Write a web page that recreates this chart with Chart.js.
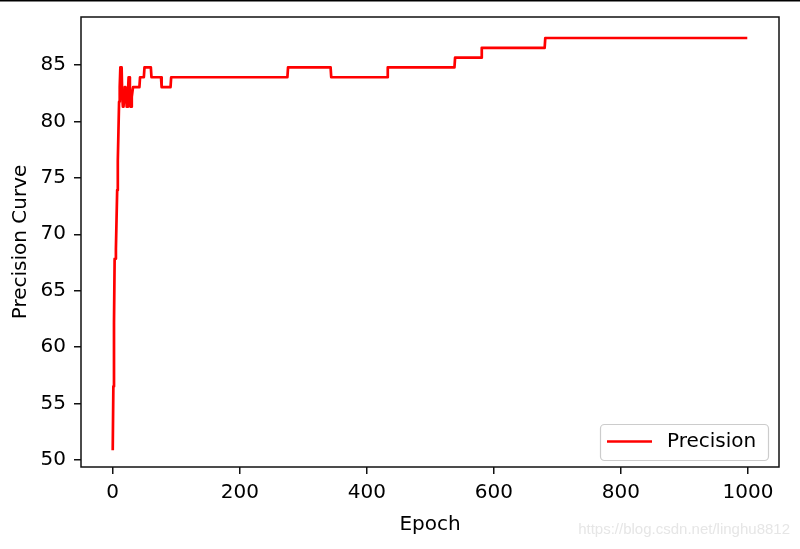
<!DOCTYPE html>
<html>
<head>
<meta charset="utf-8">
<script src="https://cdn.jsdelivr.net/npm/chart.js@4"></script>
<style>
  html, body { margin: 0; padding: 0; background: #fff; }
  #wrap { position: relative; width: 800px; height: 549px; }
  canvas { display: block; }
</style>
</head>
<body>
<div id="wrap"><canvas id="c" width="800" height="549"></canvas></div>
<script>
// ---- data ----
const epochs = [0, 1, 2, 3, 4, 5, 6, 7, 8, 9, 10, 11, 12,
  14, 15, 16, 17, 18, 19, 20, 21, 22, 23, 24, 25, 26, 27, 28, 29, 30, 31, 32,
  42, 43, 49, 50, 60, 61, 76, 77, 91, 92,
  275, 276, 343, 344, 432, 433, 538, 539, 580, 581, 680, 681, 999];
const precision = [50.87, 56.52, 62.17, 67.83, 67.83, 68.70, 71.30, 73.91, 76.52, 79.13, 81.74, 83.04, 84.78,
  84.78, 82.17, 81.30, 81.30, 82.17, 83.04, 83.04, 82.17, 81.30, 81.30, 82.61, 83.91, 83.91, 83.04, 81.30, 81.30, 82.17, 82.61, 83.04,
  83.04, 83.91, 83.91, 84.78, 84.78, 83.91, 83.91, 83.04, 83.04, 83.91,
  83.91, 84.78, 84.78, 83.91, 83.91, 84.78, 84.78, 85.65, 85.65, 86.52, 86.52, 87.39, 87.39];
const xTicks = [0, 200, 400, 600, 800, 1000];
const yTicks = [50, 55, 60, 65, 70, 75, 80, 85];
const seriesLabel = 'Precision';
const xTitle = 'Epoch';
const yTitle = 'Precision Curve';
const watermark = 'https://blog.csdn.net/linghu8812';

const FONT = 'DejaVu Sans';
const FS = 20;

const decor = {
  id: 'decor',
  beforeDraw(chart) {
    const ctx = chart.ctx;
    ctx.save();
    ctx.fillStyle = '#fff';
    ctx.fillRect(0, 0, chart.width, chart.height);
    ctx.fillStyle = '#000';
    ctx.fillRect(0, 0, chart.width, 1.5);
    ctx.restore();
  },
  afterDraw(chart) {
    const ctx = chart.ctx;
    const a = chart.chartArea;
    ctx.save();
    // frame (all four spines)
    ctx.strokeStyle = '#111';
    ctx.lineWidth = 1.5;
    ctx.strokeRect(a.left, a.top, a.right - a.left, a.bottom - a.top);
    // legend box (lower right)
    const ds = chart.data.datasets[0];
    const bx = 600.5, by = 424.5, bw = 168, bh = 36, r = 4;
    ctx.beginPath();
    ctx.moveTo(bx + r, by);
    ctx.arcTo(bx + bw, by, bx + bw, by + bh, r);
    ctx.arcTo(bx + bw, by + bh, bx, by + bh, r);
    ctx.arcTo(bx, by + bh, bx, by, r);
    ctx.arcTo(bx, by, bx + bw, by, r);
    ctx.closePath();
    ctx.fillStyle = 'rgba(255,255,255,0.8)';
    ctx.fill();
    ctx.strokeStyle = '#cccccc';
    ctx.lineWidth = 1.2;
    ctx.stroke();
    ctx.beginPath();
    ctx.moveTo(607, 441.5);
    ctx.lineTo(652, 441.5);
    ctx.strokeStyle = ds.borderColor;
    ctx.lineWidth = ds.borderWidth;
    ctx.stroke();
    ctx.fillStyle = '#000';
    ctx.font = FS + 'px "' + FONT + '"';
    ctx.textBaseline = 'middle';
    ctx.textAlign = 'left';
    ctx.fillText(ds.label, 667, 442);
    // watermark
    ctx.fillStyle = '#e6e6e6';
    ctx.font = '15px "Liberation Sans"';
    ctx.textAlign = 'right';
    ctx.fillText(watermark, 790, 530);
    ctx.restore();
  }
};

new Chart(document.getElementById('c'), {
  type: 'line',
  data: {
    datasets: [{
      label: seriesLabel,
      data: epochs.map((e, i) => ({ x: e, y: precision[i] })),
      borderColor: '#ff0000',
      borderWidth: 2.7,
      pointRadius: 0,
      tension: 0,
      fill: false,
      borderJoinStyle: 'round',
      borderCapStyle: 'butt'
    }]
  },
  options: {
    responsive: false,
    devicePixelRatio: 1,
    animation: false,
    layout: { padding: { top: 17, right: 21, left: 0, bottom: 0 } },
    plugins: { legend: { display: false }, tooltip: { enabled: false } },
    scales: {
      x: {
        type: 'linear',
        min: -49.95,
        max: 1048.95,
        afterBuildTicks: s => { s.ticks = xTicks.map(v => ({ value: v })); },
        afterFit: s => { s.height = 82; s.paddingLeft = 0; s.paddingRight = 0; s.paddingTop = 0; s.paddingBottom = 0; },
        grid: { drawOnChartArea: false, drawTicks: true, tickLength: 7, color: '#111', lineWidth: 1.5 },
        border: { display: false },
        ticks: { color: '#000', font: { family: FONT, size: FS }, padding: 7, maxRotation: 0,
          callback: v => String(v) },
        title: { display: true, text: xTitle, color: '#000', font: { family: FONT, size: FS },
          padding: { top: 0, bottom: 12 } }
      },
      y: {
        type: 'linear',
        min: 49.38,
        max: 89.25,
        afterBuildTicks: s => { s.ticks = yTicks.map(v => ({ value: v })); },
        afterFit: s => { s.width = 81; s.paddingTop = 0; s.paddingBottom = 0; s.paddingLeft = 0; s.paddingRight = 0; },
        grid: { drawOnChartArea: false, drawTicks: true, tickLength: 7, color: '#111', lineWidth: 1.5 },
        border: { display: false },
        ticks: { color: '#000', font: { family: FONT, size: FS }, padding: 8,
          callback: v => String(v) },
        title: { display: true, text: yTitle, color: '#000', font: { family: FONT, size: FS },
          padding: { top: 9, bottom: 0 } }
      }
    }
  },
  plugins: [decor]
});
</script>
</body>
</html>
